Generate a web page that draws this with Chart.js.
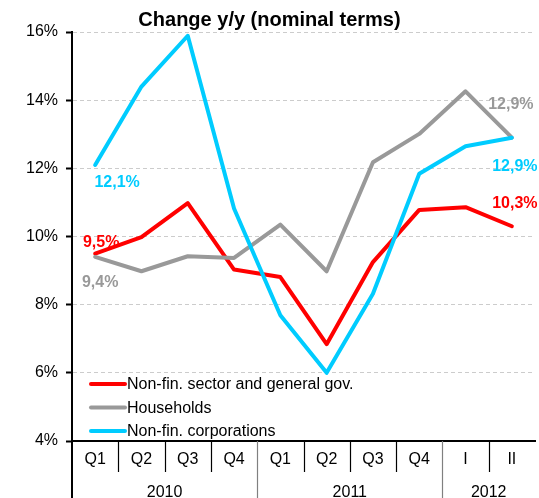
<!DOCTYPE html>
<html>
<head>
<meta charset="utf-8">
<script src="https://cdn.jsdelivr.net/npm/chart.js@4"></script>
<style>
html,body{margin:0;padding:0;background:#fff;}
#wrap{width:539px;height:498px;}
</style>
</head>
<body>
<div id="wrap"><canvas id="c" width="539" height="498"></canvas></div>
<script>
// categories + year groups
const quarters=["Q1","Q2","Q3","Q4","Q1","Q2","Q3","Q4","I","II"];
const years=["2010","2011","2012"];
const yearSpan=[4,4,2];

// y/y change, %
const nonFinGov=[9.5,9.98,10.98,9.03,8.81,6.84,9.25,10.78,10.86,10.3];
const households=[9.4,8.98,9.42,9.37,10.35,8.98,12.18,13.01,14.26,12.9];
const nonFinCorp=[12.1,14.4,15.89,10.82,7.69,6.0,8.32,11.84,12.65,12.9];

const yTicks=[4,6,8,10,12,14,16];

const FONT='Arial, "Liberation Sans", sans-serif';
const RED="#ff0000",GREY="#999999",CYAN="#00ccff";

const fmt=v=>v.toFixed(1).replace(".",",")+"%";

// which points get a value label, and where it sits vs. the point
const labelSpots=[
  {ds:0,i:0,dx:6,dy:-11},{ds:1,i:0,dx:5,dy:26},{ds:2,i:0,dx:22,dy:18},
  {ds:0,i:9,dx:3,dy:-23},{ds:1,i:9,dx:-1,dy:-33},{ds:2,i:9,dx:3,dy:29}
];

const extras={
  id:"extras",
  afterDatasetsDraw(ch){
    const ctx=ch.ctx,a=ch.chartArea;
    ctx.save();
    // value labels
    ctx.font="bold 16px "+FONT;ctx.textAlign="center";ctx.textBaseline="middle";
    labelSpots.forEach(s=>{
      const ds=ch.data.datasets[s.ds],pt=ch.getDatasetMeta(s.ds).data[s.i];
      ctx.fillStyle=ds.borderColor;
      ctx.fillText(fmt(ds.data[s.i]),pt.x+s.dx,pt.y+s.dy);
    });
    // legend inside plot
    ctx.font="16px "+FONT;ctx.textAlign="left";
    [0,1,2].forEach(k=>{
      const ds=ch.data.datasets[k],y=a.bottom-57+k*23.5;
      ctx.strokeStyle=ds.borderColor;ctx.lineWidth=4;ctx.lineCap="round";
      ctx.beginPath();ctx.moveTo(a.left+19,y);ctx.lineTo(a.left+53,y);ctx.stroke();
      ctx.fillStyle="#000";ctx.fillText(ds.label,a.left+55,y+1);
    });
    ctx.restore();
  },
  afterDraw(ch){
    const ctx=ch.ctx,a=ch.chartArea,xs=ch.scales.x,H=ch.height;
    ctx.save();
    // title
    ctx.font="bold 20px "+FONT;ctx.fillStyle="#000";ctx.textAlign="center";ctx.textBaseline="middle";
    ctx.fillText("Change y/y (nominal terms)",ch.width/2,20);
    // multi-level category table
    const n=quarters.length;
    const edge=i=>i===0?a.left:(i===n?a.right:(xs.getPixelForValue(i-1)+xs.getPixelForValue(i))/2);
    const yearEdges=[0];yearSpan.reduce((s,v)=>{yearEdges.push(s+v);return s+v;},0);
    ctx.lineCap="butt";
    for(let i=1;i<n;i++){
      const x=Math.round(edge(i))+0.5;
      if(yearEdges.includes(i)){
        ctx.strokeStyle="#808080";ctx.lineWidth=1.2;
        ctx.beginPath();ctx.moveTo(x,a.bottom);ctx.lineTo(x,H);ctx.stroke();
      }else{
        ctx.strokeStyle="#000";ctx.lineWidth=1.2;
        ctx.beginPath();ctx.moveTo(x,a.bottom);ctx.lineTo(x,a.bottom+31);ctx.stroke();
      }
    }
    ctx.strokeStyle="#000";ctx.lineWidth=2;
    ctx.beginPath();ctx.moveTo(a.left,a.bottom);ctx.lineTo(a.left,H);ctx.stroke();
    ctx.font="16px "+FONT;ctx.fillStyle="#000";
    quarters.forEach((q,i)=>ctx.fillText(q,xs.getPixelForValue(i),a.bottom+19));
    years.forEach((yr,k)=>{
      const x0=edge(yearEdges[k]),x1=edge(yearEdges[k+1]);
      ctx.fillText(yr,(x0+x1)/2,a.bottom+52);
    });
    ctx.restore();
  }
};

const line=(label,data,color,order)=>({label,data,borderColor:color,backgroundColor:color,
  borderWidth:4,pointRadius:0,tension:0,borderJoinStyle:"round",borderCapStyle:"round",fill:false,order});

new Chart(document.getElementById("c").getContext("2d"),{
  type:"line",
  data:{labels:quarters.map((q,i)=>q+"_"+i),datasets:[
    line("Non-fin. sector and general gov.",nonFinGov,RED,2),
    line("Households",households,GREY,1),
    line("Non-fin. corporations",nonFinCorp,CYAN,0)
  ]},
  options:{
    responsive:false,devicePixelRatio:1,animation:false,
    layout:{padding:{left:0,top:32,right:4,bottom:0}},
    plugins:{legend:{display:false},title:{display:false},tooltip:{enabled:false}},
    scales:{
      x:{type:"category",offset:true,
        ticks:{display:false},
        grid:{display:true,color:"rgba(0,0,0,0)",drawTicks:false},
        border:{display:true,color:"#000",width:2},
        afterFit(s){s.height=57;}},
      y:{min:4,max:16,
        afterBuildTicks(s){s.ticks=yTicks.map(v=>({value:v}));},
        ticks:{callback:v=>v+"%",color:"#000",font:{family:FONT,size:16},padding:8},
        grid:{color:"#cccccc",lineWidth:1,tickColor:"#000",tickLength:6,tickWidth:2,tickBorderDash:[]},
        border:{display:true,color:"#000",width:2,dash:[4,3]},
        afterFit(s){s.width=72;}}
    }
  },
  plugins:[extras]
});
</script>
</body>
</html>
